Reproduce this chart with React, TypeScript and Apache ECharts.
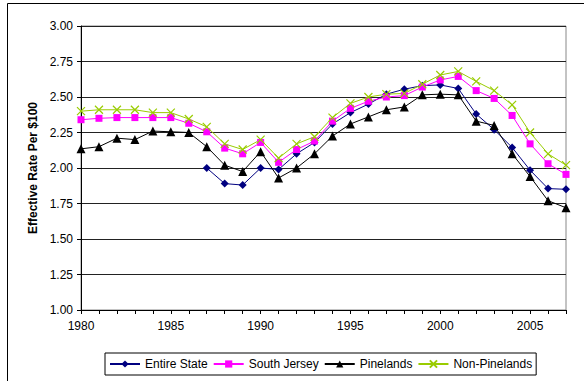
import React, { useEffect, useRef } from "react";
import * as echarts from "echarts";

const years = Array.from({ length: 28 }, (_, i) => String(1980 + i));

const entireState: (number | null)[] = [
  null, null, null, null, null, null, null,
  2.0, 1.89, 1.88, 2.0, 1.99, 2.1, 2.18, 2.31, 2.39, 2.45, 2.52, 2.555, 2.58,
  2.585, 2.56, 2.38, 2.27, 2.145, 1.985, 1.855, 1.85,
];
const southJersey = [
  2.34, 2.35, 2.355, 2.355, 2.355, 2.355, 2.315, 2.255, 2.14, 2.1, 2.18, 2.04, 2.13, 2.19,
  2.33, 2.42, 2.47, 2.5, 2.51, 2.57, 2.62, 2.645, 2.545, 2.49, 2.37, 2.17, 2.03, 1.955,
];
const pinelands = [
  2.135, 2.15, 2.21, 2.2, 2.26, 2.255, 2.25, 2.15, 2.02, 1.975, 2.115, 1.93, 2.0, 2.1,
  2.225, 2.31, 2.36, 2.41, 2.43, 2.515, 2.52, 2.515, 2.33, 2.3, 2.1, 1.94, 1.77, 1.72,
];
const nonPinelands = [
  2.4, 2.41, 2.41, 2.41, 2.39, 2.39, 2.345, 2.29, 2.17, 2.13, 2.2, 2.07, 2.17, 2.22,
  2.355, 2.455, 2.5, 2.52, 2.525, 2.59, 2.655, 2.68, 2.61, 2.545, 2.445, 2.25, 2.1, 2.02,
];

const FONT = "'Liberation Sans', Arial, sans-serif";

export default function App() {
  const ref = useRef<HTMLDivElement>(null);
  useEffect(() => {
    if (!ref.current) return;
    const chart = echarts.init(ref.current, undefined, { renderer: "svg" });
    const mk = (
      name: string,
      data: (number | null)[],
      color: string,
      symbol: string,
      size: number,
      stroke = false
    ) => ({
      name,
      type: "line",
      data,
      symbol,
      symbolSize: size,
      showSymbol: true,
      connectNulls: false,
      lineStyle: { color, width: 1 },
      itemStyle: stroke
        ? { color, borderColor: color, borderWidth: 1.2 }
        : { color, borderWidth: 0 },
      emphasis: { disabled: true },
    });
    chart.setOption({
      animation: false,
      textStyle: { fontFamily: FONT },
      graphic: [
        {
          type: "rect",
          shape: { x: 7.5, y: 3.5, width: 620, height: 420 },
          style: { fill: "none", stroke: "#000", lineWidth: 1 },
          silent: true,
        },
      ],
      grid: {
        left: 81,
        right: 18,
        top: 26,
        bottom: 71,
        show: true,
        borderColor: "#888",
        borderWidth: 1,
      },
      legend: {
        left: 105,
        top: 353,
        padding: [5, 4, 5, 4],
        itemWidth: 30,
        itemHeight: 9,
        itemGap: 5,
        borderColor: "#000",
        borderWidth: 1,
        borderRadius: 0,
        textStyle: { fontFamily: FONT, fontSize: 12, color: "#000" },
        data: ["Entire State", "South Jersey", "Pinelands", "Non-Pinelands"],
      },
      xAxis: {
        type: "category",
        data: years,
        boundaryGap: false,
        axisLine: { lineStyle: { color: "#000", width: 1 } },
        axisTick: { show: true, interval: 0, length: 4, lineStyle: { color: "#000" } },
        axisLabel: {
          interval: 4,
          color: "#000",
          fontSize: 12,
          fontFamily: FONT,
          margin: 10,
        },
        splitLine: { show: false },
      },
      yAxis: {
        type: "value",
        min: 1,
        max: 3,
        interval: 0.25,
        name: "Effective Rate Per $100",
        nameLocation: "middle",
        nameRotate: 90,
        nameGap: 42,
        nameTextStyle: { fontWeight: "bold", fontSize: 12, color: "#000", fontFamily: FONT },
        axisLine: { show: true, lineStyle: { color: "#000", width: 1 } },
        axisTick: { show: true, length: 4, lineStyle: { color: "#000" } },
        axisLabel: {
          color: "#000",
          fontSize: 12,
          fontFamily: FONT,
          margin: 8,
          formatter: (v: number) => v.toFixed(2),
        },
        splitLine: { show: true, lineStyle: { color: "#222", width: 1 } },
      },
      series: [
        mk("Entire State", entireState, "#000080", "diamond", 8),
        mk("South Jersey", southJersey, "#FF00FF", "rect", 7),
        mk("Pinelands", pinelands, "#000000", "triangle", 9),
        mk("Non-Pinelands", nonPinelands, "#99CC00", "path://M0,0L10,10M10,0L0,10", 8, true),
      ],
    });
    return () => chart.dispose();
  }, []);
  return (
    <div
      ref={ref}
      style={{ position: "fixed", left: 0, top: 0, width: 584, height: 381, background: "#fff" }}
    />
  );
}
